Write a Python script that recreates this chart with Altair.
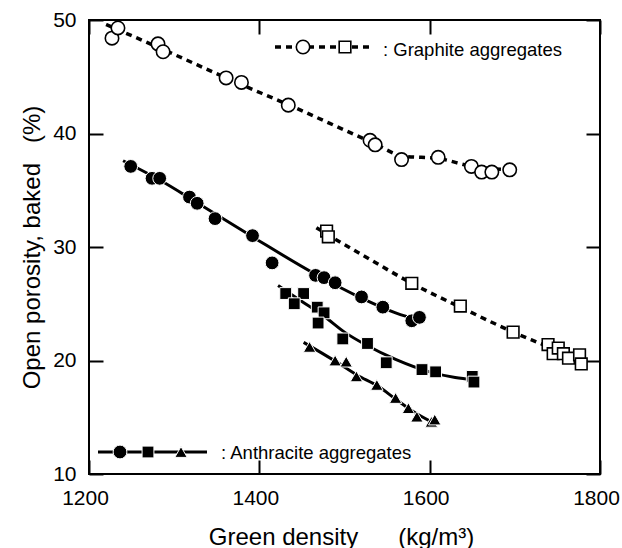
import altair as alt
import pandas as pd

FONT = "Liberation Sans"

# ---- data ----
X_DOMAIN = [1200, 1800]
Y_DOMAIN = [10, 50]
x_ticks = [1200, 1400, 1600, 1800]
y_ticks = [10, 20, 30, 40, 50]

# Graphite aggregates, open circles
gr_circ_x = [1227, 1234, 1281, 1287, 1361, 1379, 1434, 1530, 1536, 1567, 1610, 1649, 1661, 1673, 1694]
gr_circ_y = [48.4, 49.3, 47.9, 47.2, 44.9, 44.5, 42.5, 39.4, 39.0, 37.7, 37.9, 37.1, 36.6, 36.6, 36.8]
gr_circ_curve_x = [1220, 1290, 1370, 1435, 1530, 1570, 1610, 1650, 1697]
gr_circ_curve_y = [49.6, 47.3, 44.6, 42.5, 39.3, 38.0, 37.8, 37.1, 36.8]

# Graphite aggregates, open squares
gr_sq_x = [1479, 1481, 1579, 1636, 1698, 1739, 1745, 1751, 1757, 1763, 1776, 1778]
gr_sq_y = [31.4, 30.9, 26.8, 24.8, 22.5, 21.4, 20.6, 21.1, 20.6, 20.2, 20.5, 19.7]
gr_sq_curve_x = [1467, 1480, 1530, 1579, 1636, 1698, 1745, 1780]
gr_sq_curve_y = [31.7, 31.1, 28.9, 26.8, 24.7, 22.5, 21.0, 19.7]

# Anthracite aggregates, filled circles
an_circ_x = [1249, 1274, 1283, 1318, 1327, 1348, 1392, 1415, 1466, 1476, 1489, 1520, 1545, 1579, 1588]
an_circ_y = [37.1, 36.05, 36.05, 34.4, 33.85, 32.5, 31.0, 28.6, 27.5, 27.3, 26.85, 25.6, 24.7, 23.5, 23.8]
an_circ_curve_x = [1240, 1283, 1327, 1392, 1466, 1520, 1560, 1590]
an_circ_curve_y = [37.6, 35.9, 33.9, 30.9, 27.6, 25.5, 24.2, 23.5]

# Anthracite aggregates, filled squares
an_sq_x = [1431, 1452, 1441, 1468, 1476, 1469, 1498, 1527, 1549, 1591, 1607, 1650, 1652]
an_sq_y = [25.9, 25.9, 25.0, 24.7, 24.2, 23.3, 21.9, 21.5, 19.8, 19.2, 19.0, 18.6, 18.1]
an_sq_curve_x = [1422, 1450, 1476, 1500, 1527, 1560, 1600, 1630, 1652]
an_sq_curve_y = [26.6, 25.2, 23.9, 22.5, 21.3, 20.1, 19.0, 18.5, 18.3]

# Anthracite aggregates, filled triangles
an_tri_x = [1459, 1489, 1502, 1514, 1538, 1560, 1575, 1585, 1602, 1606]
an_tri_y = [21.2, 20.0, 19.9, 18.6, 17.85, 16.7, 15.8, 15.05, 14.6, 14.8]
an_tri_curve_x = [1452, 1490, 1515, 1540, 1560, 1585, 1607]
an_tri_curve_y = [21.6, 19.9, 18.7, 17.7, 16.6, 15.3, 14.4]

legend_graphite = ": Graphite aggregates"
legend_anthracite = ": Anthracite aggregates"
x_title = "Green density\u00a0\u00a0\u00a0\u00a0\u00a0\u00a0(kg/m\u00b3)"
y_title = "Open porosity, baked\u00a0\u00a0\u00a0(%)"

W, H = 511, 454
TICK_LEN = 14

XS = alt.Scale(domain=X_DOMAIN, nice=False, zero=False)
YS = alt.Scale(domain=Y_DOMAIN, nice=False, zero=False)


def df(xs, ys):
    return pd.DataFrame({"x": xs, "y": ys})


# Axes are pulled inside the frame by the tick length, so their ticks point inward.
TICKS = dict(ticks=True, tickSize=TICK_LEN, tickWidth=2, tickColor="black",
             offset=-TICK_LEN, domain=False, grid=False)

X = alt.X(
    "x:Q", scale=XS,
    axis=alt.Axis(
        orient="bottom", values=x_ticks, format="d", title=x_title,
        labelFontSize=21, labelFont=FONT, labelColor="black", labelPadding=13,
        labelOffset=-4, labelFlush=False, labelOverlap=False,
        titleFont=FONT, titleFontSize=24, titleFontWeight="normal", titleColor="black",
        titleX=252, titleY=63 + TICK_LEN, titleBaseline="middle", titleAlign="center",
        **TICKS,
    ),
)
Y = alt.Y(
    "y:Q", scale=YS,
    axis=alt.Axis(
        orient="left", values=y_ticks, title=y_title,
        labelFontSize=21, labelFont=FONT, labelColor="black", labelPadding=13,
        labelFlush=False, labelOverlap=False,
        titleFont=FONT, titleFontSize=24, titleFontWeight="normal", titleColor="black",
        titleX=-57 - TICK_LEN, titleY=227, titleBaseline="middle", titleAlign="center", titleAngle=-90,
        **TICKS,
    ),
)
X_TOP = alt.X("x:Q", scale=XS, axis=alt.Axis(orient="top", values=x_ticks, labels=False, title="", **TICKS))
Y_RIGHT = alt.Y("y:Q", scale=YS, axis=alt.Axis(orient="right", values=y_ticks, labels=False, title="", **TICKS))

DOT = dict(color="black", strokeWidth=3.5, strokeDash=[6, 5], strokeCap="butt", interpolate="monotone")
SOLID = dict(color="black", strokeWidth=3, interpolate="monotone")

layers = []
# curves
layers.append(alt.Chart(df(gr_circ_curve_x, gr_circ_curve_y)).mark_line(**DOT).encode(x=X, y=Y))
layers.append(alt.Chart(df(gr_sq_curve_x, gr_sq_curve_y)).mark_line(**DOT).encode(x=X, y=Y))
layers.append(alt.Chart(df(an_circ_curve_x, an_circ_curve_y)).mark_line(**SOLID).encode(x=X, y=Y))
layers.append(alt.Chart(df(an_sq_curve_x, an_sq_curve_y)).mark_line(**SOLID).encode(x=X, y=Y))
layers.append(alt.Chart(df(an_tri_curve_x, an_tri_curve_y)).mark_line(**SOLID).encode(x=X, y=Y))

OPEN = dict(filled=True, fill="white", stroke="black", strokeWidth=1.6, opacity=1)
FILLED = dict(filled=True, fill="black", stroke="white", strokeWidth=1, opacity=1)

layers.append(alt.Chart(df(gr_circ_x, gr_circ_y)).mark_point(shape="circle", size=180, **OPEN).encode(x=X, y=Y))
layers.append(alt.Chart(df(gr_sq_x, gr_sq_y)).mark_point(shape="square", size=135, **OPEN).encode(x=X, y=Y))
layers.append(alt.Chart(df(an_circ_x, an_circ_y)).mark_point(shape="circle", size=190, **FILLED).encode(x=X, y=Y))
layers.append(alt.Chart(df(an_sq_x, an_sq_y)).mark_point(shape="square", size=140, **FILLED).encode(x=X, y=Y))
layers.append(alt.Chart(df(an_tri_x, an_tri_y)).mark_point(shape="triangle-up", size=155, **FILLED).encode(x=X, y=Y))

# legend keys (annotations)
one = pd.DataFrame({"k": [0]})
layers.append(alt.Chart(one).mark_rule(color="black", strokeWidth=3.5, strokeDash=[6, 5], strokeCap="butt").encode(
    x=alt.value(186), x2=alt.value(283), y=alt.value(27)))
layers.append(alt.Chart(one).mark_point(shape="circle", size=180, **OPEN).encode(x=alt.value(214), y=alt.value(27)))
layers.append(alt.Chart(one).mark_point(shape="square", size=135, **OPEN).encode(x=alt.value(256), y=alt.value(27)))
layers.append(alt.Chart(one).mark_text(align="left", baseline="middle", font=FONT, fontSize=18.5, color="black").encode(
    x=alt.value(294), y=alt.value(30), text=alt.value(legend_graphite)))

layers.append(alt.Chart(one).mark_rule(color="black", strokeWidth=3).encode(
    x=alt.value(9), x2=alt.value(118), y=alt.value(432)))
layers.append(alt.Chart(one).mark_point(shape="circle", size=190, **FILLED).encode(x=alt.value(31), y=alt.value(432)))
layers.append(alt.Chart(one).mark_point(shape="square", size=140, **FILLED).encode(x=alt.value(59), y=alt.value(432)))
layers.append(alt.Chart(one).mark_point(shape="triangle-up", size=155, **FILLED).encode(x=alt.value(92), y=alt.value(432)))
layers.append(alt.Chart(one).mark_text(align="left", baseline="middle", font=FONT, fontSize=18.5, color="black").encode(
    x=alt.value(132), y=alt.value(433), text=alt.value(legend_anthracite)))

main = alt.layer(*layers)

# invisible layer that carries the top and right axes (inward ticks only)
frame_axes = alt.Chart(df(x_ticks[1:3], y_ticks[1:3])).mark_point(opacity=0).encode(x=X_TOP, y=Y_RIGHT)

chart = alt.layer(main, frame_axes).resolve_axis(x="independent", y="independent").properties(
    width=W,
    height=H,
    padding={"left": 89, "top": 20, "right": 22, "bottom": 74},
    autosize=alt.AutoSizeParams(type="none"),
    background="white",
).configure_view(stroke="black", strokeWidth=2)

chart.save("out.html", embed_options={"renderer": "svg", "actions": False})
